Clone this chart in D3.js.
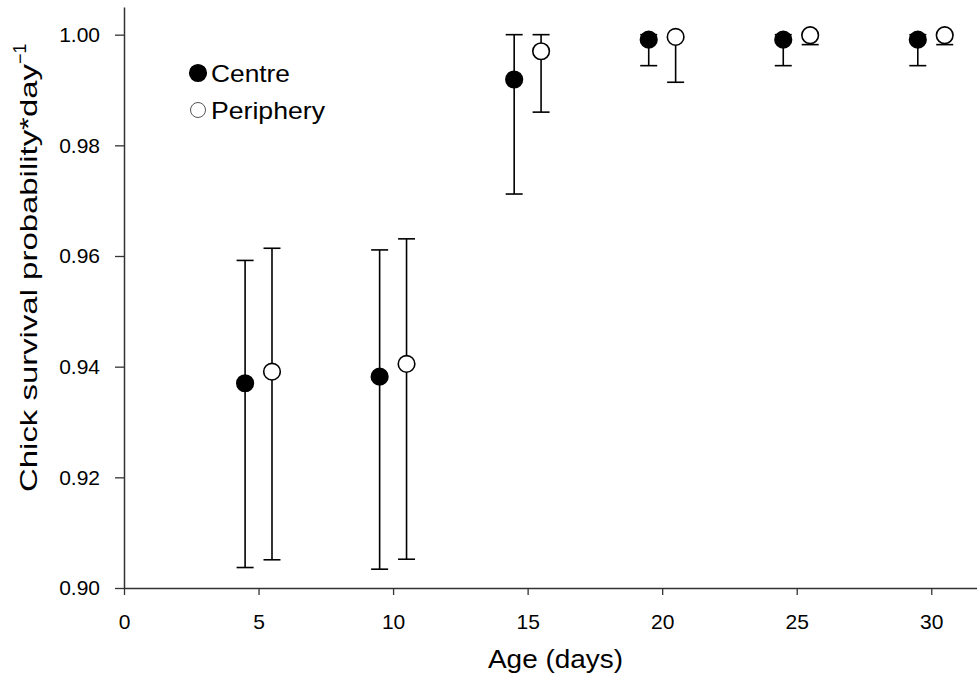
<!DOCTYPE html>
<html>
<head>
<meta charset="utf-8">
<script src="https://cdn.jsdelivr.net/npm/d3@7"></script>
<style>
  body { margin: 0; background: #fff; }
  svg text { font-family: "Liberation Sans", Arial, sans-serif; fill: #000; }
</style>
</head>
<body>
<div id="chart"></div>
<script>
// data
var centreAge = [4.5, 9.5, 14.5, 19.5, 24.5, 29.5];
var centreMean = [0.9370, 0.9382, 0.9919, 0.9991, 0.9991, 0.9991];
var centreLow = [0.9037, 0.9034, 0.9712, 0.9944, 0.9944, 0.9944];
var centreHigh = [0.9592, 0.9611, 1.0000, 1.0000, 1.0000, 1.0000];

var periphAge = [5.5, 10.5, 15.5, 20.5, 25.5, 30.5];
var periphMean = [0.9391, 0.9405, 0.9970, 0.9996, 0.9999, 0.9999];
var periphLow = [0.9051, 0.9052, 0.9860, 0.9914, 0.9982, 0.9982];
var periphHigh = [0.9614, 0.9631, 1.0000, 1.0000, 1.0000, 1.0000];

var xTicks = [0, 5, 10, 15, 20, 25, 30];
var yTicks = [0.90, 0.92, 0.94, 0.96, 0.98, 1.00];
var seriesNames = ["Centre", "Periphery"];

var W = 977, H = 677;

var x = d3.scaleLinear()
    .domain([0, 31.7])
    .range([124, 977]);

var y = d3.scaleLinear()
    .domain([0.9, 1.005])
    .range([588, 7]);

var svg = d3.select("#chart")
    .append("svg")
    .attr("width", W)
    .attr("height", H);

// axes
var gx = svg.append("g")
    .attr("transform", "translate(0,588)")
    .call(d3.axisBottom(x).tickValues(xTicks).tickSize(7).tickSizeOuter(0).tickPadding(19));

var gy = svg.append("g")
    .attr("transform", "translate(124,0)")
    .call(d3.axisLeft(y).tickValues(yTicks).tickSize(9).tickSizeOuter(0).tickPadding(15)
        .tickFormat(d3.format(".2f")));

[gx, gy].forEach(function(g){
    g.select(".domain").attr("stroke", "#333").attr("stroke-width", 1.5);
    g.selectAll(".tick line").attr("stroke", "#333").attr("stroke-width", 1.3);
    g.selectAll(".tick text").style("font-size", "21px").attr("fill", "#000");
});

// axis titles (the original lettering is wider than Arial, so stretch it)
svg.append("text")
    .attr("x", 488)
    .attr("y", 668)
    .attr("textLength", 135)
    .attr("lengthAdjust", "spacingAndGlyphs")
    .style("font-size", "25px")
    .text("Age (days)");

var yl = svg.append("text")
    .attr("transform", "translate(37,492) rotate(-90)")
    .style("font-size", "24px");
yl.append("tspan")
    .attr("textLength", 428)
    .attr("lengthAdjust", "spacingAndGlyphs")
    .text("Chick survival probability*day");
yl.append("tspan").attr("dy", "-0.6em").style("font-size", "18px").text("\u2212" + "1");

// build rows
var centre = centreAge.map(function(a, i){
    return {age: a, mean: centreMean[i], lo: centreLow[i], hi: centreHigh[i], fill: "#000"};
});
var periph = periphAge.map(function(a, i){
    return {age: a, mean: periphMean[i], lo: periphLow[i], hi: periphHigh[i], fill: "#fff"};
});
var rows = centre.concat(periph);

var cap = 8.5;
var bars = svg.append("g")
    .attr("stroke", "#000")
    .attr("stroke-width", 1.6);

bars.selectAll(".stem")
    .data(rows).enter()
    .append("line")
    .attr("x1", d => x(d.age)).attr("x2", d => x(d.age))
    .attr("y1", d => y(d.lo)).attr("y2", d => y(d.hi));

bars.selectAll(".capLo")
    .data(rows).enter()
    .append("line")
    .attr("x1", d => x(d.age) - cap).attr("x2", d => x(d.age) + cap)
    .attr("y1", d => y(d.lo)).attr("y2", d => y(d.lo));

bars.selectAll(".capHi")
    .data(rows).enter()
    .append("line")
    .attr("x1", d => x(d.age) - cap).attr("x2", d => x(d.age) + cap)
    .attr("y1", d => y(d.hi)).attr("y2", d => y(d.hi));

svg.append("g").selectAll("circle")
    .data(rows).enter()
    .append("circle")
    .attr("cx", d => x(d.age))
    .attr("cy", d => y(d.mean))
    .attr("r", 8.3)
    .attr("fill", d => d.fill)
    .attr("stroke", "#000")
    .attr("stroke-width", 1.6);

// legend
var legendLen = [79, 114];
var legend = svg.append("g");
seriesNames.forEach(function(n, i){
    var ly = 73 + i * 37;
    legend.append("circle")
        .attr("cx", 198).attr("cy", ly).attr("r", i === 0 ? 8.3 : 7.5)
        .attr("fill", i === 0 ? "#000" : "#fff")
        .attr("stroke", i === 0 ? "#000" : "#555")
        .attr("stroke-width", i === 0 ? 1.6 : 1);
    legend.append("text")
        .attr("x", 211).attr("y", ly + 9)
        .attr("textLength", legendLen[i])
        .attr("lengthAdjust", "spacingAndGlyphs")
        .style("font-size", "24px")
        .text(n);
});
</script>
</body>
</html>
